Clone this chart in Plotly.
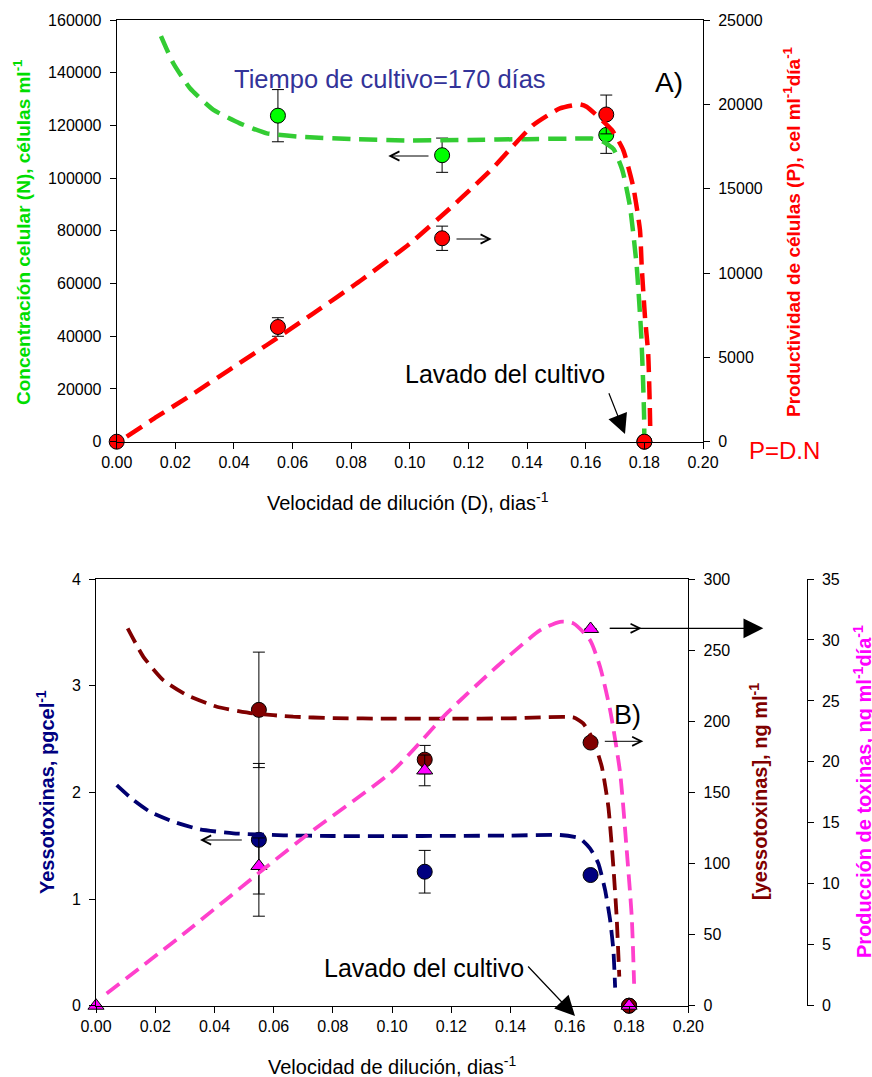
import plotly.graph_objects as go

W, H = 872, 1077
FONT = "Arial, Liberation Sans, sans-serif"

# ---------------- Panel A data ----------------
D_obs_A = [0.055, 0.111, 0.167, 0.18]
N_obs = [123700, 108700, 116400, 0]
N_err = [9900, 6500, 7000, 0]

D_obs_P = [0.0, 0.055, 0.111, 0.167, 0.18]
P_obs = [0, 6800, 12060, 19400, 0]
P_err = [0, 550, 720, 1150, 0]

D_fit_N = [0.0151, 0.0193, 0.025, 0.033, 0.042, 0.0512, 0.0625, 0.08, 0.10, 0.12,
           0.14, 0.155, 0.162, 0.166, 0.1695, 0.1725, 0.1751, 0.1774, 0.1789,
           0.1795, 0.1799, 0.18]
N_fit = [153900, 143600, 134100, 125900, 120800, 117000, 115700, 114800, 114300, 114500,
         114800, 115000, 115000, 113800, 111000, 103000, 89200, 66400, 41100,
         25000, 10000, 0]

D_fit_P = [0.0034, 0.0137, 0.025, 0.0512, 0.0671, 0.0836, 0.1001, 0.1137, 0.1217,
           0.1285, 0.1353, 0.1421, 0.1512, 0.158, 0.1603, 0.1689, 0.1728, 0.1762,
           0.1785, 0.1791, 0.1802, 0.1813, 0.1818, 0.182]
P_fit = [296, 1482, 2720, 5733, 7611, 9600, 11762, 13836, 15117,
         16250, 17550, 18774, 19763, 20000, 19860, 18480, 17290, 15120,
         12550, 10370, 7410, 5240, 2470, 790]

# ---------------- Panel B data ----------------
D_obs_B = [0.055, 0.111, 0.167, 0.18]
Y_cel = [1.555, 1.256, 1.225, 0]          # pg/cel
Y_cel_err = [0.716, 0.20, 0, 0]
Y_conc = [208.0, 173.0, 185.0, 0]          # ng/ml
Y_conc_err = [40.6, 10.0, 0, 0]

D_obs_T = [0.0, 0.055, 0.111, 0.167, 0.18]
T_prod = [0, 11.46, 19.3, 30.9, 0]          # ng/ml/dia
T_prod_err = [0, 2.3, 1.26, 0, 0]

D_fit_cel = [0.007, 0.0126, 0.0182, 0.0261, 0.0351, 0.0464, 0.0633, 0.08, 0.10, 0.12,
             0.14, 0.1567, 0.1634, 0.1668, 0.1696, 0.1719, 0.1736, 0.1747, 0.1753]
cel_fit = [2.068, 1.928, 1.818, 1.725, 1.653, 1.616, 1.597, 1.591, 1.590, 1.592,
           1.595, 1.600, 1.569, 1.475, 1.335, 1.085, 0.803, 0.522, 0.17]

D_fit_conc = [0.0107, 0.016, 0.0227, 0.0306, 0.0408, 0.0531, 0.0666, 0.08, 0.10, 0.12,
              0.14, 0.1612, 0.1645, 0.1679, 0.1708, 0.173, 0.1747, 0.1758, 0.1767]
conc_fit = [265.3, 245.3, 228.9, 218.4, 210.2, 205.5, 203.2, 202.2, 201.8, 201.8,
            202.0, 202.7, 198.5, 186.8, 168.0, 139.9, 97.7, 62.6, 20.4]

D_fit_prod = [0.0036, 0.0284, 0.0576, 0.0734, 0.1004, 0.1184, 0.1353, 0.15, 0.1567,
              0.1612, 0.1668, 0.1702, 0.1736, 0.177, 0.1792, 0.1809, 0.1817]
prod_fit = [1.0, 5.66, 11.4, 14.41, 19.3, 23.98, 27.8, 30.8, 31.49,
            31.36, 29.99, 27.8, 24.25, 19.06, 12.77, 7.3, 1.8]

x_ticks = [0.00, 0.02, 0.04, 0.06, 0.08, 0.10, 0.12, 0.14, 0.16, 0.18, 0.20]


def px(x):
    return x / W


def py(y):
    return 1 - y / H


err_style = dict(type="data", color="black", thickness=1, width=6, visible=True)

fig = go.Figure()

# ---- Panel A markers ----
fig.add_trace(go.Scatter(x=D_obs_A, y=N_obs, mode="markers", xaxis="x", yaxis="y",
                         error_y=dict(array=N_err, **err_style),
                         marker=dict(size=15, color="#00FF00", line=dict(color="black", width=1)),
                         cliponaxis=False))
fig.add_trace(go.Scatter(x=D_obs_P, y=P_obs, mode="markers", xaxis="x", yaxis="y2",
                         error_y=dict(array=P_err, **err_style),
                         marker=dict(size=15, color="#FF0000", line=dict(color="black", width=1)),
                         cliponaxis=False))
# ---- Panel A curves ----
fig.add_trace(go.Scatter(x=D_fit_N, y=N_fit, mode="lines", xaxis="x", yaxis="y",
                         line=dict(color="#33CC33", width=4.5, dash="18px,9px",
                                   shape="spline", smoothing=0.5), cliponaxis=False))
fig.add_trace(go.Scatter(x=D_fit_P, y=P_fit, mode="lines", xaxis="x", yaxis="y2",
                         line=dict(color="#FF0000", width=4.5, dash="18px,9px",
                                   shape="spline", smoothing=0.5), cliponaxis=False))

# ---- Panel B markers ----
fig.add_trace(go.Scatter(x=D_obs_B, y=Y_cel, mode="markers", xaxis="x2", yaxis="y3",
                         error_y=dict(array=Y_cel_err, **err_style),
                         marker=dict(size=15, color="#000080", line=dict(color="black", width=1)),
                         cliponaxis=False))
fig.add_trace(go.Scatter(x=D_obs_B, y=Y_conc, mode="markers", xaxis="x2", yaxis="y4",
                         error_y=dict(array=Y_conc_err, **err_style),
                         marker=dict(size=15, color="#800000", line=dict(color="black", width=1)),
                         cliponaxis=False))
fig.add_trace(go.Scatter(x=D_obs_T, y=T_prod, mode="markers", xaxis="x2", yaxis="y5",
                         error_y=dict(array=T_prod_err, **err_style),
                         marker=dict(size=14, symbol="triangle-up", color="#FF00FF",
                                     line=dict(color="black", width=1)),
                         cliponaxis=False))
# ---- Panel B curves ----
fig.add_trace(go.Scatter(x=D_fit_cel, y=cel_fit, mode="lines", xaxis="x2", yaxis="y3",
                         line=dict(color="#000070", width=3.8, dash="16px,8px",
                                   shape="spline", smoothing=0.5)))
fig.add_trace(go.Scatter(x=D_fit_conc, y=conc_fit, mode="lines", xaxis="x2", yaxis="y4",
                         line=dict(color="#800000", width=3.8, dash="16px,8px",
                                   shape="spline", smoothing=0.5)))
fig.add_trace(go.Scatter(x=D_fit_prod, y=prod_fit, mode="lines", xaxis="x2", yaxis="y5",
                         line=dict(color="#FF40CC", width=3.8, dash="16px,8px",
                                   shape="spline", smoothing=0.6)))

axis_common = dict(showgrid=False, zeroline=False, showline=True, linecolor="black", linewidth=1,
                   ticks="outside", ticklen=6, tickwidth=1, tickcolor="black", automargin=False,
                   tickfont=dict(family=FONT, size=16, color="black"))
yax = dict(ticklabelstandoff=5, **axis_common)

fig.update_layout(
    width=W, height=H,
    margin=dict(l=0, r=0, t=0, b=0, pad=0, autoexpand=False),
    paper_bgcolor="white", plot_bgcolor="white",
    showlegend=False,
    xaxis=dict(domain=[px(116.7), px(703)], range=[0, 0.2], tickvals=x_ticks, tickformat=".2f",
               anchor="y", mirror=True, **axis_common),
    yaxis=dict(domain=[py(441.7), py(20)], range=[0, 160000], dtick=20000, tickformat="d",
               anchor="x", **yax),
    yaxis2=dict(range=[0, 25000], dtick=5000, tickformat="d", overlaying="y", side="right",
                anchor="x", **yax),
    xaxis2=dict(domain=[px(96), px(688.3)], range=[0, 0.2], tickvals=x_ticks, tickformat=".2f",
                anchor="y3", mirror=True, **axis_common),
    yaxis3=dict(domain=[py(1005.7), py(579)], range=[0, 4], dtick=1, anchor="x2", **yax),
    yaxis4=dict(range=[0, 300], dtick=50, overlaying="y3", side="right", anchor="x2", **yax),
    yaxis5=dict(range=[0, 35], dtick=5, overlaying="y3", side="right", anchor="free",
                position=px(806.7), **yax),
)

ann = []


def text(t, x, y, size, color="black", bold=False, angle=0):
    if bold:
        t = "<b>" + t + "</b>"
    ann.append(dict(text=t, x=px(x), y=py(y), xref="paper", yref="paper", showarrow=False,
                    xanchor="center", yanchor="middle", textangle=angle,
                    font=dict(family=FONT, size=size, color=color)))


def arrow(hx, hy, tx, ty, head, size, width):
    ann.append(dict(text="", x=px(hx), y=py(hy), xref="paper", yref="paper",
                    ax=tx - hx, ay=ty - hy, showarrow=True, arrowhead=head,
                    arrowsize=size, arrowwidth=width, arrowcolor="black", standoff=0))


# Panel A texts
text("Tiempo de cultivo=170 días", 390, 79, 25.5, "#333399")
text("A)", 669, 82, 28)
text("Lavado del cultivo", 505, 374, 25)
text("P=D.N", 784, 450, 24, "#FF0000")
text("Concentración celular (N), células ml<sup>-1</sup>", 22, 232, 19, "#00DD00", True, -90)
text("Productividad de células (P), cel ml<sup>-1</sup>día<sup>-1</sup>", 792, 232, 19,
     "#FF0000", True, -90)
text("Velocidad de dilución (D), dias<sup>-1</sup>", 408, 501, 20)

# Panel B texts
text("B)", 627, 715, 27)
text("Lavado del cultivo", 424, 968, 25)
text("Yessotoxinas, pgcel<sup>-1</sup>", 45, 792, 20, "#000080", True, -90)
text("[yessotoxinas], ng ml<sup>-1</sup>", 758, 792, 20, "#800000", True, -90)
text("Producción de toxinas, ng ml<sup>-1</sup>día<sup>-1</sup>", 862, 792, 20, "#FF00FF", True, -90)
text("Velocidad de dilución, dias<sup>-1</sup>", 392, 1065, 20)

# arrows
arrow(388.3, 156, 430, 156, 5, 1.8, 1)
arrow(491.7, 239, 455, 239, 5, 1.8, 1)
arrow(625, 434, 608.3, 391.7, 2, 3.3, 1.2)
arrow(200, 840, 243.3, 840, 5, 1.8, 1)
arrow(643.3, 741.3, 603.3, 741.3, 5, 1.8, 1)
arrow(641.7, 628.3, 608.3, 628.3, 5, 1.8, 1)
arrow(763.3, 628.3, 608.3, 628.3, 2, 3.3, 1.2)
arrow(575, 1016, 526.7, 965, 2, 3.3, 1.2)

fig.update_layout(annotations=ann)

fig.write_html("out.html", config={"displayModeBar": False},
               post_script="document.body.style.margin='0px';document.body.style.overflow='hidden';")
